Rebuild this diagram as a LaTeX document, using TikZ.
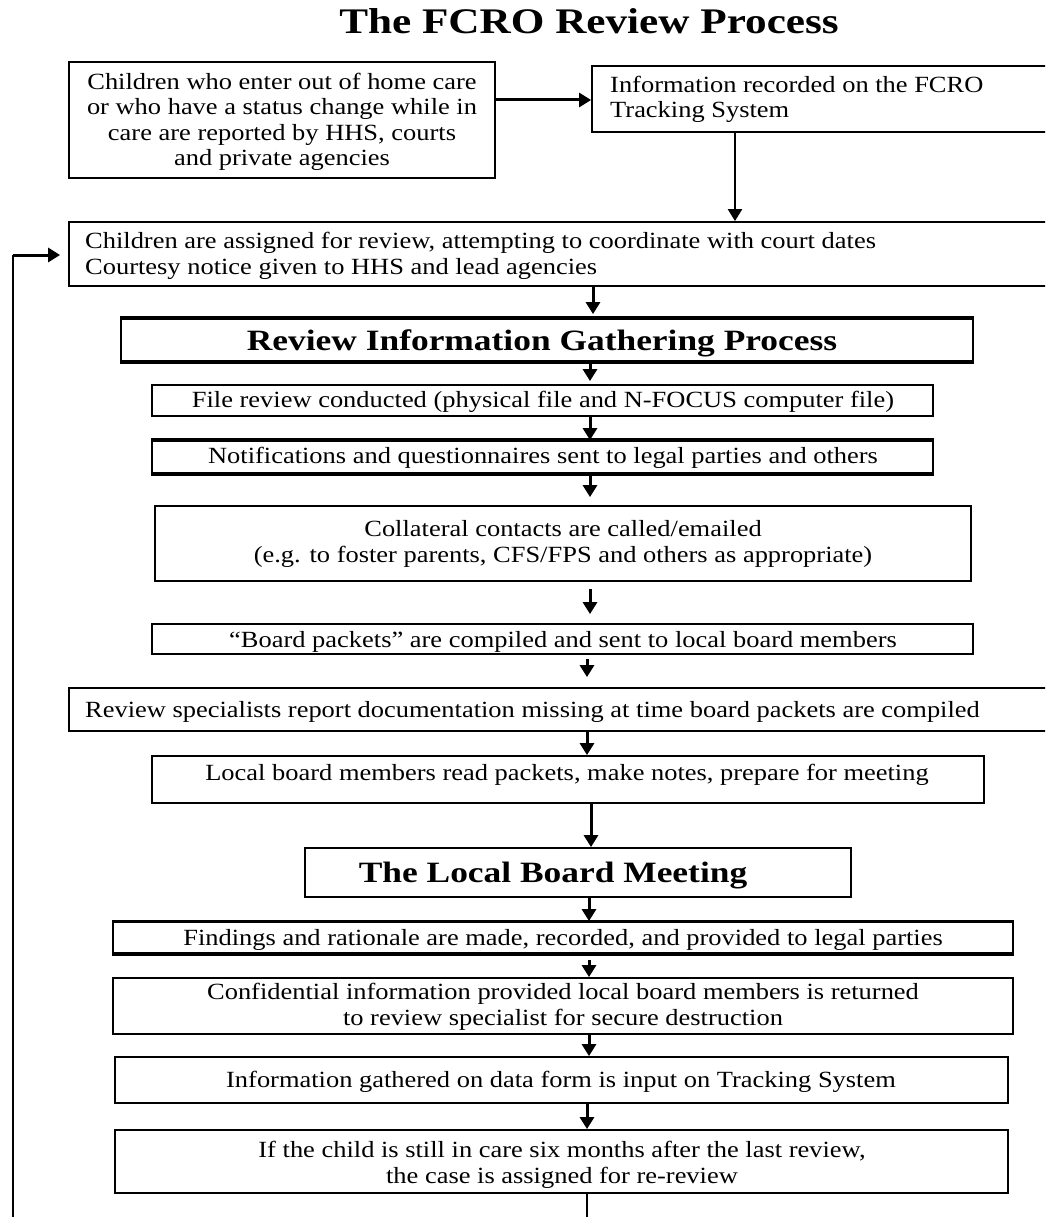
\documentclass[tikz,border=0pt]{standalone}
\usepackage{fontspec}
\setmainfont[FakeStretch=1.14]{Liberation Serif}
\newfontfamily\headfont[FakeStretch=1.2]{Liberation Serif}
\usetikzlibrary{arrows.meta}
\tikzset{
  box/.style={draw=black, line width=1.8pt, inner sep=0pt, rectangle},
  txt/.style={inner sep=0pt, font=\fontsize{23.2}{25.6}\selectfont},
  ctxt/.style={txt, align=center, anchor=base},
  ltxt/.style={txt, align=left, anchor=base west},
  headtxt/.style={inner sep=0pt, anchor=base, font=\headfont\bfseries\fontsize{29.5}{32}\selectfont},
  arr/.style={line width=3pt, -{Triangle[width=14pt,length=12pt]}},
  loopline/.style={line width=2.2pt},
}
\newcommand\mkbox[5]{\node[box, minimum width={(#4-#2)*1pt}, minimum height={(#5-#3)*1pt}] (#1) at ({(#2+#4)/2},{(#3+#5)/2}) {};}
\begin{document}
\begin{tikzpicture}[x=1pt,y=-1pt]
\useasboundingbox (0,0) rectangle (1045,1217);
\clip (0,0) rectangle (1045,1217);

% title
\node[inner sep=0pt, anchor=base, font=\headfont\bfseries\fontsize{36}{40}\selectfont] (title) at (589,34) {The FCRO Review Process};

% boxes
\mkbox{A}{69}{62}{495}{178}
\mkbox{B}{592}{66}{1075}{132}
\mkbox{C}{69}{222}{1075}{286}
\mkbox{D}{121}{319}{973}{361}
\mkbox{E}{152}{385}{933}{416}
\mkbox{F}{152}{441}{933}{473}
\mkbox{G}{155}{506}{971}{581}
\mkbox{H}{152}{624}{973}{654}
\mkbox{I}{69}{688}{1075}{731}
\mkbox{J}{152}{756}{984}{803}
\mkbox{K}{305}{848}{851}{897}
\mkbox{L}{113}{922}{1013}{953}
\mkbox{M}{113}{978}{1013}{1034}
\mkbox{N}{115}{1057}{1008}{1103}
\mkbox{O}{115}{1130}{1008}{1193}

% heavier edges
\draw[line width=4.5pt] (D.north west) -- (D.north east) (D.south west) -- (D.south east);
\draw[line width=4.2pt] (F.north west) -- (F.north east) (F.south west) -- (F.south east);
\draw[line width=2.8pt] (L.north west) -- (L.north east);
\draw[line width=4.5pt] (L.south west) -- (L.south east);

% texts (base anchor = baseline of the last line)
\node[ctxt] (At) at (282,166) {Children who enter out of home care\\or who have a status change while in\\care are reported by HHS, courts\\and private agencies};
\node[ltxt] (Bt) at (610,118) {Information recorded on the FCRO\\Tracking System};
\node[ltxt] (Ct) at (85,274) {Children are assigned for review, attempting to coordinate with court dates\\Courtesy notice given to HHS and lead agencies};
\node[headtxt] (Dt) at (542,350) {Review Information Gathering Process};
\node[ctxt] (Et) at (543,407) {File review conducted (physical file and N-FOCUS computer file)};
\node[ctxt] (Ft) at (543,463) {Notifications and questionnaires sent to legal parties and others};
\node[ctxt] (Gt) at (563,562) {Collateral contacts are called/emailed\\(e.g. to foster parents, CFS/FPS and others as appropriate)};
\node[ctxt] (Ht) at (563,647) {“Board packets” are compiled and sent to local board members};
\node[ltxt] (It) at (85,717) {Review specialists report documentation missing at time board packets are compiled};
\node[ctxt] (Jt) at (567,780) {Local board members read packets, make notes, prepare for meeting};
\node[headtxt] (Kt) at (553,882) {The Local Board Meeting};
\node[ctxt] (Lt) at (563,945) {Findings and rationale are made, recorded, and provided to legal parties};
\node[ctxt] (Mt) at (563,1025) {Confidential information provided local board members is returned\\to review specialist for secure destruction};
\node[ctxt] (Nt) at (561,1087) {Information gathered on data form is input on Tracking System};
\node[ctxt] (Ot) at (562,1183) {If the child is still in care six months after the last review,\\the case is assigned for re-review};

% spine coordinates
\coordinate (xAB) at (0,100);
\coordinate (xBC) at (735,0);
\coordinate (xCD) at (593,0);
\coordinate (xDE) at (590,0);
\coordinate (xHI) at (587,0);
\coordinate (xJK) at (591,0);
\coordinate (xKO) at (589,0);
\coordinate (xNO) at (587,0);
\coordinate (corner) at (13,255);
\coordinate (bottom) at (13,1245);

% connectors
\draw[arr] (A.east |- xAB) -- (B.west |- xAB);
\draw[arr, line width=2.3pt] (B.south -| xBC) -- (C.north -| xBC);
\draw[arr, shorten >=4pt] (C.south -| xCD) -- (D.north -| xCD);
\draw[arr, shorten >=3pt] (D.south -| xDE) -- (E.north -| xDE);
\draw[arr] (E.south -| xDE) -- (F.north -| xDE);
\draw[arr, shorten >=8pt] (F.south -| xDE) -- (G.north -| xDE);
\draw[arr, shorten <=7pt, shorten >=9pt] (G.south -| xDE) -- (H.north -| xDE);
\draw[arr, shorten <=4pt, shorten >=10pt] (H.south -| xHI) -- (I.north -| xHI);
\draw[arr] (I.south -| xHI) -- (J.north -| xHI);
\draw[arr] (J.south -| xJK) -- (K.north -| xJK);
\draw[arr] (K.south -| xKO) -- (L.north -| xKO);
\draw[arr, shorten <=6pt] (L.south -| xKO) -- (M.north -| xKO);
\draw[arr] (M.south -| xKO) -- (N.north -| xKO);
\draw[arr] (N.south -| xNO) -- (O.north -| xNO);

% feedback loop
\draw[loopline] (O.south -| xNO) -- (xNO |- bottom) -- (bottom) -- (corner);
\draw[arr, shorten >=8pt] (corner) -- (C.west |- corner);
\end{tikzpicture}
\end{document}
